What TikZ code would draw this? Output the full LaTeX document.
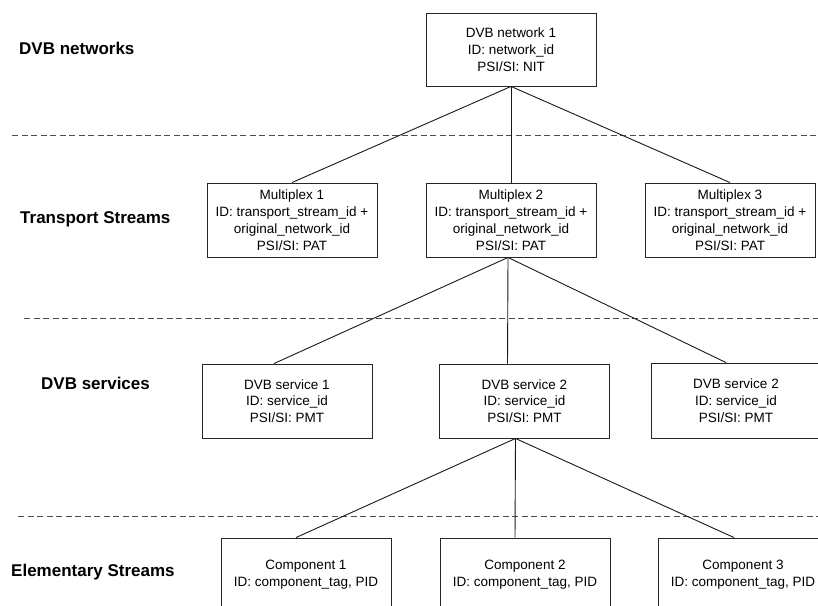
\documentclass[tikz,border=0pt]{standalone}
\usepackage{fontspec}
\setmainfont{Liberation Sans}
\begin{document}
\begin{tikzpicture}[x=1pt,y=-1pt,
  box/.style={draw=black!85, line width=0.9pt, minimum width=170pt, minimum height=74pt,
    inner sep=0pt, align=center, font=\fontsize{13.5}{16.8}\selectfont},
  layer/.style={anchor=west, inner sep=0pt, font=\fontsize{17}{20}\selectfont\bfseries},
  sep/.style={draw=black!70, line width=0.9pt, dash pattern=on 6pt off 3.5pt},
  link/.style={draw=black!90, line width=0.9pt}]
\useasboundingbox (0,0) rectangle (818,605);
\clip (0,0) rectangle (818,605);
% separators
\draw[sep] (12,135) -- (818,135);
\draw[sep] (24,318) -- (818,318);
\draw[sep] (18,516) -- (818,516);
% layer labels
\node[layer] (l1) at (19,48) {DVB networks};
\node[layer] (l2) at (20,219) {Transport Streams};
\node[layer] (l3) at (41,383) {DVB services};
\node[layer] (l4) at (11,572) {Elementary Streams};
% boxes
\node[box, minimum height=73pt] (net) at (511,49.5) {DVB network 1\\ID: network\_id\\PSI/SI: NIT};
\node[box] (m1) at (292,220) {Multiplex 1\\ID: transport\_stream\_id +\\original\_network\_id\\PSI/SI: PAT};
\node[box] (m2) at (511,220) {Multiplex 2\\ID: transport\_stream\_id +\\original\_network\_id\\PSI/SI: PAT};
\node[box] (m3) at (730,220) {Multiplex 3\\ID: transport\_stream\_id +\\original\_network\_id\\PSI/SI: PAT};
\node[box] (s1) at (287,401) {DVB service 1\\ID: service\_id\\PSI/SI: PMT};
\node[box] (s2) at (524.5,401) {DVB service 2\\ID: service\_id\\PSI/SI: PMT};
\node[box, minimum height=75pt] (s3) at (736,400.5) {DVB service 2\\ID: service\_id\\PSI/SI: PMT};
\node[box] (c1) at (306,575) {Component 1\\ID: component\_tag, PID};
\node[box] (c2) at (525,575) {Component 2\\ID: component\_tag, PID};
\node[box] (c3) at (743,575) {Component 3\\ID: component\_tag, PID};
% connectors
\draw[link] (net.south) -- (m1.north);
\draw[link] (net.south) -- (m2.north);
\draw[link] (net.south) -- (m3.north);
\draw[link] ([xshift=-3pt]m2.south) -- ([xshift=-13pt]s1.north);
\draw[link] ([xshift=-3pt]m2.south) -- ([xshift=-17pt]s2.north);
\draw[link] ([xshift=-3pt]m2.south) -- ([xshift=-10pt]s3.north);
\draw[link] ([xshift=-9pt]s2.south) -- ([xshift=-10pt]c1.north);
\draw[link] ([xshift=-9pt]s2.south) -- ([xshift=-10pt]c2.north);
\draw[link] ([xshift=-9pt]s2.south) -- ([xshift=-9pt]c3.north);
\end{tikzpicture}
\end{document}
